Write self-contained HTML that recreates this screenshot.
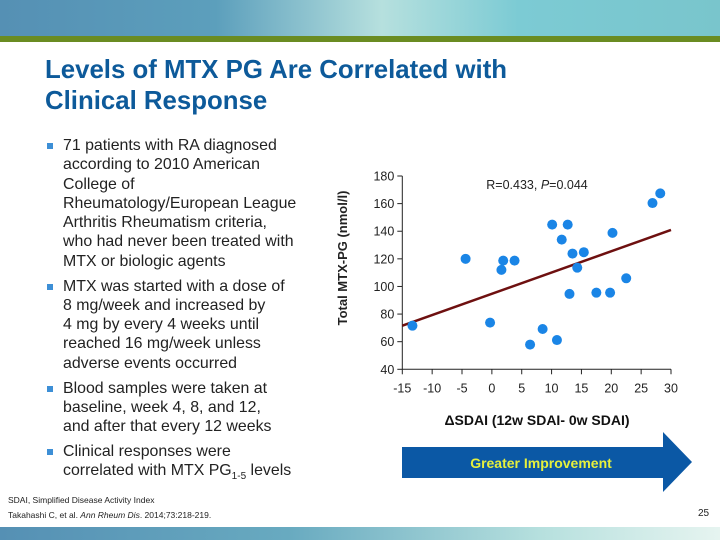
<!DOCTYPE html>
<html><head><meta charset="utf-8"><style>
body{margin:0;width:720px;height:540px;overflow:hidden;background:#fff;font-family:"Liberation Sans",sans-serif;position:relative}
.top{position:absolute;left:0;top:0;width:720px;height:36px;background:linear-gradient(90deg,#5590b4 0%,#5c9fbc 30%,#b6e0de 53%,#7ccbd4 72%,#79c5cc 100%)}
.green{position:absolute;left:0;top:36px;width:720px;height:6px;background:#6a8c22}
.bot{position:absolute;left:0;top:527px;width:720px;height:13px;background:linear-gradient(90deg,#5590b4 0%,#68aac0 40%,#b6e0de 75%,#e6f4f0 100%)}
h1{position:absolute;left:45px;top:55px;margin:0;font-size:25.8px;line-height:31px;color:#0d5a9a;font-weight:bold;white-space:nowrap}
ul{position:absolute;left:45px;top:136px;margin:0;padding:0;list-style:none;width:300px}
li{position:relative;padding-left:18px;font-size:15.9px;line-height:19.3px;color:#222;margin-bottom:5.5px;white-space:nowrap}
li:before{content:"";position:absolute;left:2px;top:7px;width:6px;height:6px;background:#3d8fd6}
.foot{position:absolute;left:8px;font-size:8.5px;color:#222}
</style></head><body>
<div class="top"></div>
<div class="green"></div>
<h1>Levels of MTX PG Are Correlated with<br>Clinical Response</h1>
<ul>
<li>71 patients with RA diagnosed<br>according to 2010 American<br>College of<br>Rheumatology/European League<br>Arthritis Rheumatism criteria,<br>who had never been treated with<br>MTX or biologic agents</li>
<li>MTX was started with a dose of<br>8 mg/week and increased by<br>4 mg by every 4 weeks until<br>reached 16 mg/week unless<br>adverse events occurred</li>
<li>Blood samples were taken at<br>baseline, week 4, 8, and 12,<br>and after that every 12 weeks</li>
<li>Clinical responses were<br>correlated with MTX PG<sub style="font-size:10px;line-height:0">1-5</sub> levels</li>
</ul>
<div class="foot" style="top:495px">SDAI, Simplified Disease Activity Index</div>
<div class="foot" style="top:510px">Takahashi C, et al. <i>Ann Rheum Dis</i>. 2014;73:218-219.</div>
<div style="position:absolute;left:698px;top:508px;font-size:10px;color:#222">25</div>
<div class="bot"></div>
<svg id="chart" width="720" height="540" style="position:absolute;left:0;top:0"></svg>
<script>
const xVals=[-13.3,-4.4,-0.3,1.6,1.9,3.8,6.4,8.5,10.1,10.9,11.7,12.7,13.0,13.5,14.3,15.4,17.5,19.8,20.2,22.5,26.9,28.2];
const yVals=[71.6,120,73.8,112,118.7,118.7,57.9,69.2,144.8,61.2,133.9,144.8,94.6,123.8,113.6,124.8,95.5,95.5,138.8,105.9,160.4,167.4];
const xTicks=[-15,-10,-5,0,5,10,15,20,25,30];
const yTicks=[40,60,80,100,120,140,160,180];
const fitLine=[[-15,71.6],[30,140.9]];
const NS="http://www.w3.org/2000/svg";
const svg=document.getElementById('chart');
const X=v=>402.3+(v+15)*(268.7/45);
const Y=v=>369.3-(v-40)*(193.3/140);
function mk(t,a){const e=document.createElementNS(NS,t);for(const k in a)e.setAttribute(k,a[k]);svg.appendChild(e);return e;}
let e;
e=mk('line',{x1:X(-15),y1:Y(180),x2:X(-15),y2:Y(40),stroke:'#222','stroke-width':1});


e=mk('line',{x1:X(-15),y1:Y(40),x2:X(30),y2:Y(40),stroke:'#222','stroke-width':1});


yTicks.forEach(t=>{
 mk('line',{x1:X(-15)-5,y1:Y(t),x2:X(-15),y2:Y(t),stroke:'#222'});
 e=mk('text',{x:X(-15)-8,y:Y(t)+4.5,'text-anchor':'end','font-size':12.5,fill:'#222','font-family':'Liberation Sans'});
 e.textContent=t;
 
 
});
xTicks.forEach(t=>{
 mk('line',{x1:X(t),y1:Y(40),x2:X(t),y2:Y(40)+5,stroke:'#222'});
 e=mk('text',{x:X(t),y:Y(40)+23,'text-anchor':'middle','font-size':12.5,fill:'#222','font-family':'Liberation Sans'});
 e.textContent=t;
 
 
});
e=mk('line',{x1:X(fitLine[0][0]),y1:Y(fitLine[0][1]),x2:X(fitLine[1][0]),y2:Y(fitLine[1][1]),stroke:'#6e1010','stroke-width':2.5});


xVals.forEach((x,i)=>{
 e=mk('circle',{cx:X(x),cy:Y(yVals[i]),r:5,fill:'#1a85e6'});
 
 
});
e=mk('text',{x:537,y:189,'text-anchor':'middle','font-size':12.5,fill:'#222','font-family':'Liberation Sans'});
e.innerHTML='R=0.433, <tspan font-style="italic">P</tspan>=0.044';


e=mk('text',{x:0,y:0,transform:'translate(347,258) rotate(-90)','text-anchor':'middle','font-size':13,'font-weight':'bold',fill:'#222','font-family':'Liberation Sans'});
e.textContent='Total MTX-PG (nmol/l)';


e=mk('text',{x:537,y:425,'text-anchor':'middle','font-size':14,'font-weight':'bold',fill:'#111','font-family':'Liberation Sans, DejaVu Sans'});
e.textContent='ΔSDAI (12w SDAI- 0w SDAI)';


e=mk('polygon',{points:'402,447 663,447 663,432 692,462 663,492 663,478 402,478',fill:'#0b58a5'});


e=mk('text',{x:541,y:468,'text-anchor':'middle','font-size':14,'font-weight':'bold',fill:'#e6f03c','font-family':'Liberation Sans'});
e.textContent='Greater Improvement';


</script>
</body></html>
